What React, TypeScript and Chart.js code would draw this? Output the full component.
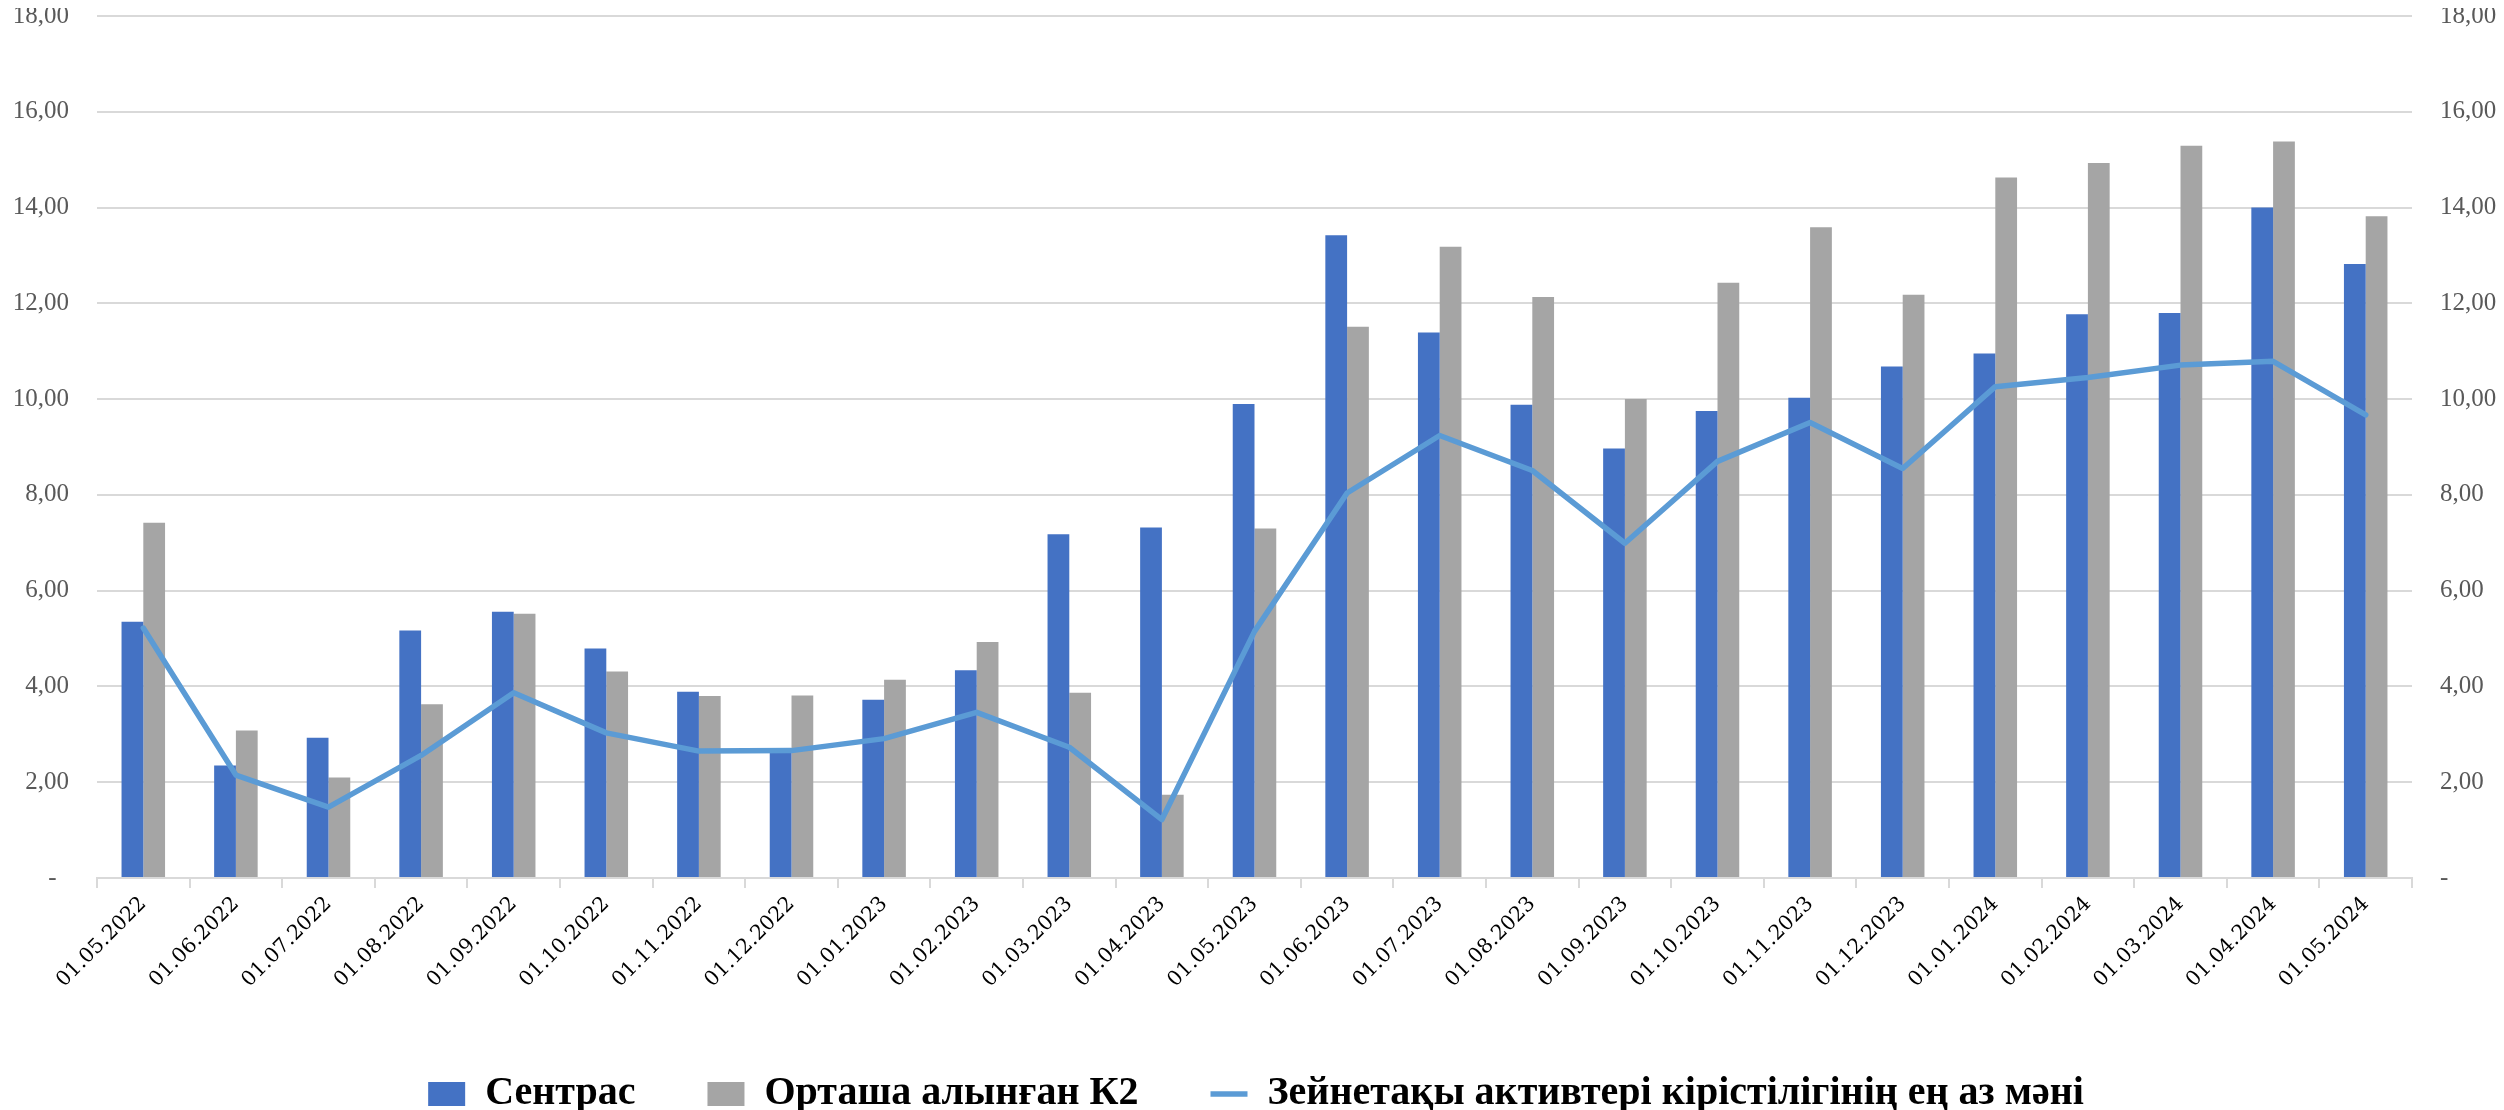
import { useEffect, useRef } from 'react';
import { Chart, registerables } from 'chart.js';

Chart.register(...registerables);

const categories = [
  '01.05.2022', '01.06.2022', '01.07.2022', '01.08.2022', '01.09.2022', '01.10.2022',
  '01.11.2022', '01.12.2022', '01.01.2023', '01.02.2023', '01.03.2023', '01.04.2023',
  '01.05.2023', '01.06.2023', '01.07.2023', '01.08.2023', '01.09.2023', '01.10.2023',
  '01.11.2023', '01.12.2023', '01.01.2024', '01.02.2024', '01.03.2024', '01.04.2024',
  '01.05.2024',
];

const centrasValues = [
  5.35, 2.35, 2.93, 5.17, 5.56, 4.79, 3.89, 2.65, 3.72, 4.34, 7.18, 7.32, 9.9,
  13.42, 11.39, 9.88, 8.97, 9.75, 10.03, 10.68, 10.95, 11.77, 11.8, 14.0, 12.82,
];

const k2Values = [
  7.42, 3.08, 2.1, 3.63, 5.52, 4.31, 3.8, 3.81, 4.14, 4.93, 3.87, 1.74, 7.3,
  11.51, 13.18, 12.13, 10.0, 12.43, 13.59, 12.18, 14.63, 14.93, 15.29, 15.38, 13.82,
];

const minYieldValues = [
  5.22, 2.15, 1.48, 2.56, 3.87, 3.03, 2.65, 2.66, 2.91, 3.46, 2.73, 1.22, 5.15,
  8.04, 9.24, 8.51, 6.99, 8.7, 9.51, 8.55, 10.26, 10.45, 10.71, 10.79, 9.67,
];

const seriesNames = ['Сентрас', 'Орташа алынған К2', 'Зейнетақы активтері кірістілігінің ең аз мәні'];

const yMin = 0;
const yMax = 18;
const yStep = 2;

const X_TICK_FONT = "'DejaVu Serif', 'Liberation Serif', serif";
const Y_TICK_FONT = "'Liberation Serif', 'DejaVu Serif', serif";
const LEGEND_FONT = "'Liberation Serif', 'DejaVu Serif', serif";

const fmt = (v: number) => (v === 0 ? '-\u2002' : v.toFixed(2).replace('.', ','));

export default function App() {
  const ref = useRef<HTMLCanvasElement | null>(null);

  useEffect(() => {
    document.documentElement.style.overflow = 'hidden';
    const yTicks = {
      stepSize: yStep,
      color: '#595959',
      padding: 28,
      font: { family: Y_TICK_FONT, size: 25 },
      callback: (v: any) => fmt(Number(v)),
    };
    const chart = new Chart(ref.current as HTMLCanvasElement, {
      type: 'bar',
      data: {
        labels: categories,
        datasets: [
          {
            type: 'bar',
            label: seriesNames[0],
            data: centrasValues,
            backgroundColor: '#4472C4',
            borderWidth: 0,
            categoryPercentage: 0.47,
            barPercentage: 1.0,
            pointStyle: 'rect',
            order: 1,
            yAxisID: 'y',
          } as any,
          {
            type: 'bar',
            label: seriesNames[1],
            data: k2Values,
            backgroundColor: '#A5A5A5',
            borderWidth: 0,
            categoryPercentage: 0.47,
            barPercentage: 1.0,
            pointStyle: 'rect',
            order: 1,
            yAxisID: 'y',
          } as any,
          {
            type: 'line',
            label: seriesNames[2],
            data: minYieldValues,
            borderColor: '#5B9BD5',
            backgroundColor: '#5B9BD5',
            borderWidth: 5.5,
            pointRadius: 0,
            pointHoverRadius: 0,
            pointStyle: 'line',
            tension: 0,
            borderJoinStyle: 'round',
            borderCapStyle: 'round',
            order: 0,
            yAxisID: 'y',
          } as any,
        ],
      },
      options: {
        animation: false,
        responsive: true,
        maintainAspectRatio: false,
        layout: { padding: { top: 8, bottom: -14, left: 0, right: 0 } },
        plugins: {
          tooltip: { enabled: false },
          legend: {
            position: 'bottom',
            labels: {
              usePointStyle: true,
              pointStyleWidth: 37,
              boxHeight: 24,
              padding: 72,
              color: '#000000',
              font: { family: LEGEND_FONT, size: 40, weight: 'bold' },
              sort: (a: any, b: any) => a.datasetIndex - b.datasetIndex,
            },
          },
        },
        scales: {
          x: {
            offset: true,
            grid: {
              display: true,
              drawOnChartArea: false,
              drawTicks: true,
              tickLength: 10,
              color: '#d9d9d9',
              lineWidth: 2,
              offset: true,
            },
            border: { display: true, color: '#d9d9d9', width: 2 },
            ticks: {
              autoSkip: false,
              minRotation: 45,
              maxRotation: 45,
              color: '#000000',
              padding: 4,
              font: { family: X_TICK_FONT, size: 20.5 },
            },
            afterFit: (s: any) => {
              s.height = 124;
              s.paddingLeft = 0;
              s.paddingRight = 0;
            },
          },
          y: {
            position: 'left',
            min: yMin,
            max: yMax,
            grid: { color: '#d9d9d9', lineWidth: 2, drawTicks: false },
            border: { display: false },
            ticks: yTicks as any,
            afterFit: (s: any) => {
              s.width = 89;
              s.paddingTop = 0;
              s.paddingBottom = 0;
            },
          },
          y1: {
            position: 'right',
            min: yMin,
            max: yMax,
            grid: { display: false, drawTicks: false },
            border: { display: false },
            ticks: yTicks as any,
            afterFit: (s: any) => {
              s.width = 92;
              s.paddingTop = 0;
              s.paddingBottom = 0;
            },
          },
        },
      },
    });
    return () => chart.destroy();
  }, []);

  return (
    <div style={{ position: 'relative', width: '2496px', height: '1102px' }}>
      <canvas ref={ref} />
    </div>
  );
}
